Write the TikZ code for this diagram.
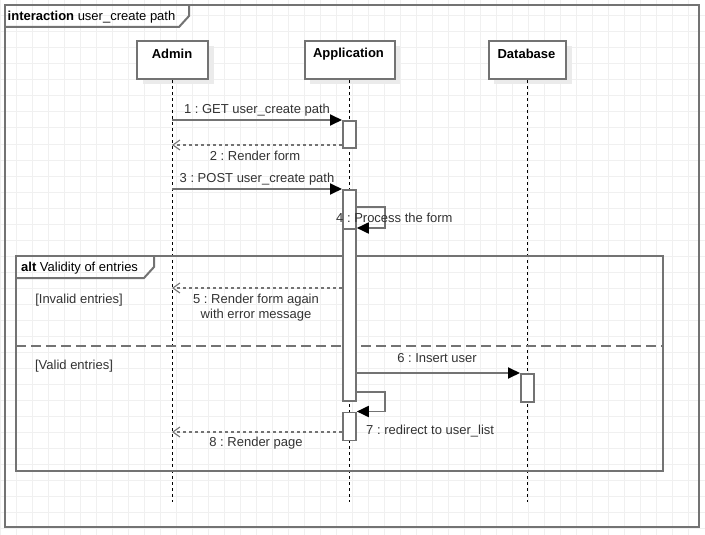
\documentclass[tikz,border=0pt]{standalone}
\usepackage{fontspec}
\setmainfont{Liberation Sans}
\usetikzlibrary{arrows.meta}
\definecolor{gridc}{HTML}{F0F0F0}
\definecolor{linec}{HTML}{737373}
\definecolor{textc}{HTML}{333333}
\definecolor{shadowc}{HTML}{EBEBEB}

\begin{document}
\frenchspacing
\begin{tikzpicture}[x=1pt,y=-1pt,
  font=\fontsize{13}{15}\selectfont, text=textc,
  frameline/.style={draw=linec, line width=2pt},
  headbox/.style={draw=linec, line width=2pt, fill=white, anchor=north west,
    minimum width=71pt, minimum height=38pt, inner sep=0pt},
  txt/.style={inner sep=0pt, yshift=-1.5pt},
  headtext/.style={txt, font=\fontsize{13}{15}\selectfont\bfseries, text=black},
  lifeline/.style={draw=black, line width=1pt, dash pattern=on 3pt off 3pt},
  actbox/.style={draw=linec, line width=1.8pt, fill=white, anchor=north west,
    minimum width=13pt, inner sep=0pt},
  sync/.style={draw=linec, line width=1.8pt,
    -{Triangle[length=12pt,width=11pt,color=black]}},
  reply/.style={draw=linec, line width=1.6pt, dash pattern=on 3pt off 3pt,
    -{Straight Barb[length=7pt,width=10pt,line width=1.1pt]}},
  msglabel/.style={txt, align=center},
  guard/.style={txt}
]
\useasboundingbox (0,0) rectangle (705,535);
\fill[white] (0,0) rectangle (705,535);

% background grid
\foreach \gx in {0.5,16.5,...,704} \draw[gridc, line width=1pt] (\gx,0) -- (\gx,535);
\foreach \gy in {0,16,...,535} \draw[gridc, line width=1pt] (0,\gy) -- (705,\gy);

% outer interaction frame
\draw[frameline] (5,5) rectangle (699,527);
\draw[frameline] (5,27) -- (179,27) -- (189,16) -- (189,5);
\node[txt, anchor=west, text=black] (frametitle) at (7.5,16)
  {\textbf{interaction} user\_create path};

% lifeline heads with their soft shadows
\fill[shadowc] (143,46) rectangle (214,84);
\fill[shadowc] (310,46) rectangle (400,84);
\fill[shadowc] (494,46) rectangle (572,84);
\node[headbox] (admin) at (136,40) {};
\node[headbox, minimum width=90pt] (app) at (303.5,40) {};
\node[headbox, minimum width=77pt] (db) at (488,40) {};
\node[headtext] (admintxt) at (172,52.5) {Admin};
\node[headtext] (apptxt) at (348.5,52.5) {Application};
\node[headtext] (dbtxt) at (526.5,52.5) {Database};

% lifelines
\coordinate (adminend) at (172,502);
\coordinate (append) at (349,502);
\coordinate (dbend) at (527,502);
\draw[lifeline] (admin.south -| adminend) -- (adminend);
\draw[lifeline] (app.south -| append) -- (append);
\draw[lifeline] (db.south -| dbend) -- (dbend);

% combined fragment "alt"
\draw[frameline] (16,256) rectangle (663,471);
\draw[frameline] (16,278) -- (144,278) -- (154,267) -- (154,256);
\node[txt, anchor=west, text=black] (alttitle) at (21,267)
  {\textbf{alt} Validity of entries};
\draw[draw=linec, line width=2pt, dash pattern=on 10pt off 5pt] (16,345.5) -- (663,345.5);
\node[guard] (guard1) at (79,299) {[Invalid entries]};
\node[guard] (guard2) at (74,365) {[Valid entries]};

% activation bars
\node[actbox, minimum height=27pt] (act1) at (342,120) {};
\node[actbox, minimum height=39pt] (act2) at (342,189) {};
\node[actbox, minimum height=172pt] (act3) at (342,228) {};
\node[actbox, minimum height=28pt] (act4) at (342,411.5) {};
\node[actbox, minimum height=28pt] (act5) at (520,373) {};

% message anchors on the lifelines
\coordinate (m1) at (172,120);
\coordinate (m2) at (172,145);
\coordinate (m2s) at (342,145);
\coordinate (m3) at (172,189);
\coordinate (m4) at (355,207);
\coordinate (m5s) at (342,288);
\coordinate (m5) at (172,288);
\coordinate (m6) at (355,373);
\coordinate (m7) at (355,392);
\coordinate (m8s) at (342,432);
\coordinate (m8) at (172,432);

% messages
\draw[sync] (m1) -- (act1.north west);
\draw[reply] (m2s) -- (m2);
\draw[sync] (m3) -- (act2.north west);
\draw[sync] (m4) -- ++(30,0) |- (act3.north east);
\draw[reply] (m5s) -- (m5);
\draw[sync] (m6) -- (act5.north west);
\draw[sync] (m7) -- ++(30,0) |- (act4.north east);
\draw[reply] (m8s) -- (m8);

% message labels
\node[msglabel] (l1) at (257,109) {1 : GET user\_create path};
\node[msglabel] (l2) at (255,154.5) {2 : Render form};
\node[msglabel] (l3) at (257,178) {3 : POST user\_create path};
\node[msglabel, anchor=west] (l4) at (336,216) {4 : Process the form};
\node[msglabel] (l5) at (256,306.5) {5 : Render form again\\with error message};
\node[msglabel] (l6) at (437,357) {6 : Insert user};
\node[msglabel, anchor=west] (l7) at (366,429.5) {7 : redirect to user\_list};
\node[msglabel] (l8) at (256,441.5) {8 : Render page};
\end{tikzpicture}
\end{document}
